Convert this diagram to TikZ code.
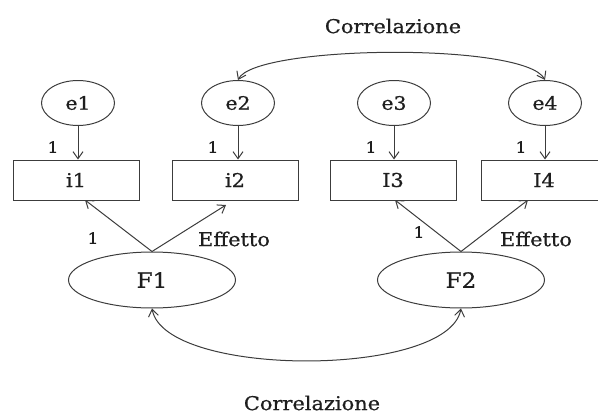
\documentclass[tikz,border=0pt]{standalone}
\usepackage{fontspec}
\setmainfont[FakeStretch=1.1,FakeBold=0.8]{DejaVu Serif}
\usetikzlibrary{shapes.geometric,arrows.meta}
\definecolor{linegray}{HTML}{3c3c3c}
\definecolor{textgray}{HTML}{1e1e1e}
\begin{document}
\begin{tikzpicture}[x=1pt,y=-1pt,
  every node/.style={text=textgray},
  conn/.style={draw=linegray, line width=1pt, -{Straight Barb[length=7pt,width=10pt]}},
  corr/.style={draw=linegray, line width=1pt, {Straight Barb[length=7pt,width=10pt]}-{Straight Barb[length=7pt,width=10pt]}},
  errnode/.style={ellipse, draw=linegray, line width=1pt, minimum width=73pt, minimum height=45pt, inner sep=0pt, font=\fontsize{18.5}{22}\selectfont},
  itembox/.style={rectangle, draw=linegray, line width=1pt, minimum width=126pt, minimum height=40pt, inner sep=0pt, font=\fontsize{19}{22}\selectfont},
  factor/.style={ellipse, draw=linegray, line width=1pt, minimum width=167pt, minimum height=56pt, inner sep=0pt, font=\fontsize{21}{25}\selectfont},
  lbl/.style={inner sep=0pt, font=\fontsize{19}{22}\selectfont},
  one/.style={inner sep=0pt, font=\fontsize{15.5}{18}\selectfont},
]
\useasboundingbox (0,0) rectangle (598,415);

% error terms
\node[errnode] (e1) at (78,103) {e1};
\node[errnode] (e2) at (238,103) {e2};
\node[errnode] (e3) at (394,103) {e3};
\node[errnode] (e4) at (545,103) {e4};

% observed items
\node[itembox] (i1) at (76,180) {i1};
\node[itembox] (i2) at (235,180) {i2};
\node[itembox] (i3) at (393,180) {I3};
\node[itembox] (i4) at (544,180) {I4};

% latent factors
\node[factor] (f1) at (152,280) {F1};
\node[factor] (f2) at (461,280) {F2};

% error paths
\foreach \k in {1,2,3,4}
  \draw[conn] (e\k.south) -- (e\k.south |- i\k.north);

\node[one] (l1) at (53,147) {1};
\node[one] (l2) at (213,147) {1};
\node[one] (l3) at (371,147) {1};
\node[one] (l4) at (521,147) {1};

% loadings
\coordinate (a1) at (85,200);
\coordinate (a2) at (226,205);
\coordinate (a3) at (395,200);
\coordinate (a4) at (528,200);
\draw[conn] (f1.north) -- (a1);
\draw[conn] (f1.north) -- (a2);
\draw[conn] (f2.north) -- (a3);
\draw[conn] (f2.north) -- (a4);

\node[one] (w1) at (93,238) {1};
\node[lbl] (w2) at (234,239) {Effetto};
\node[one] (w3) at (419,232) {1};
\node[lbl] (w4) at (536,239) {Effetto};

% correlations
\draw[corr] (e2.north) .. controls (255,45) and (525,42) .. (e4.north);
\draw[corr] (f1.south) .. controls (165,378) and (448,378) .. (f2.south);

\node[lbl] (c1) at (393,26) {Correlazione};
\node[lbl] (c2) at (312,403) {Correlazione};
\end{tikzpicture}
\end{document}
